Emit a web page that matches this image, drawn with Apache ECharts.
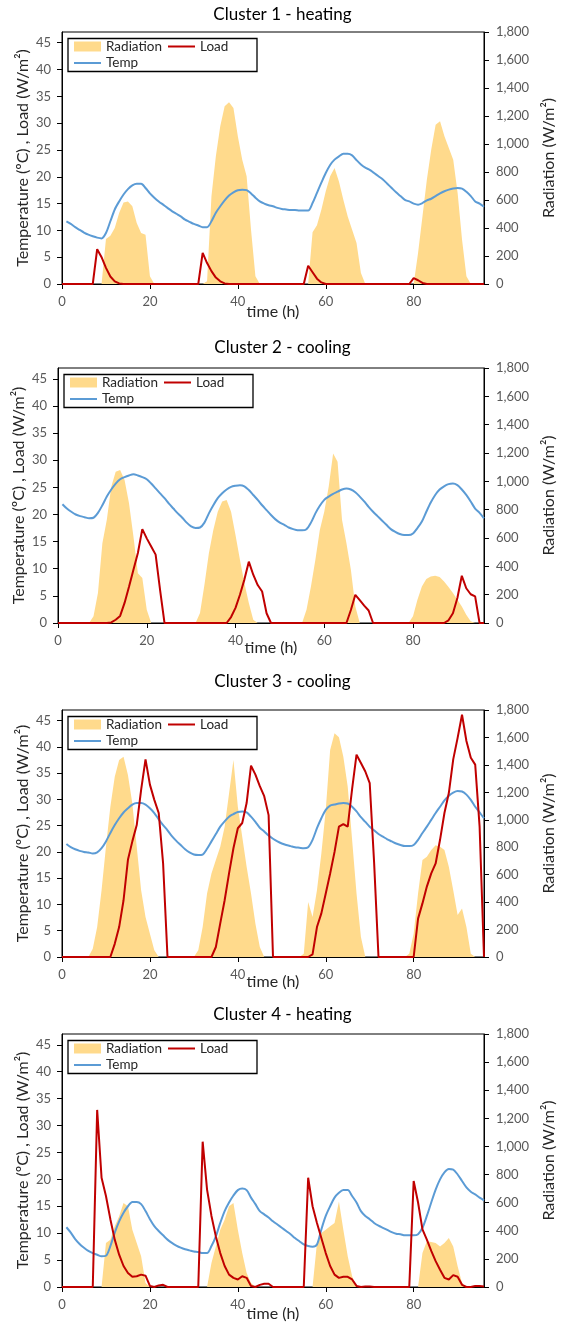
<!DOCTYPE html>
<html><head><meta charset="utf-8">
<script src="https://cdn.jsdelivr.net/npm/echarts@6/dist/echarts.min.js"></script>
<style>html,body{margin:0;padding:0;background:#fff}#c{width:565px;height:1324px}</style>
</head><body><div id="c"></div>
<script>
// ---- data (hour index 0..96) ----
const hours = [0,1,2,3,4,5,6,7,8,9,10,11,12,13,14,15,16,17,18,19,20,21,22,23,24,25,26,27,28,29,30,31,32,33,34,35,36,37,38,39,40,41,42,43,44,45,46,47,48,49,50,51,52,53,54,55,56,57,58,59,60,61,62,63,64,65,66,67,68,69,70,71,72,73,74,75,76,77,78,79,80,81,82,83,84,85,86,87,88,89,90,91,92,93,94,95,96];
const xTicks = [0,20,40,60,80];
const leftTicks = [0,5,10,15,20,25,30,35,40,45];
const titles = ['Cluster 1 - heating','Cluster 2 - cooling','Cluster 3 - cooling','Cluster 4 - heating'];

// Radiation (W/m2), h = 0..96
const rad1 = [0,0,0,0,0,0,0,0,0,0, 321,345,400,507,583,590,555,436,364,352,55,0, 0,0,0,0,0,0,0,0,0,0,0, 20,626,912,1126,1269,1298,1257,1055,888,769,388,55,0, 0,0,0,0,0,0,0,0,0,0,0, 370,420,530,662,769,829,733,602,483,388,293,79,0, 0,0,0,0,0,0,0,0,0,0,0, 221,483,745,960,1138,1162,1055,971,888,650,317,55,0,0,0,0];
const rad2 = [0,0,0,0,0,0,0,0, 47,211,563,728,962,1068,1080,1009,845,610,352,317,94,0, 0,0,0,0,0,0,0,0,0,0, 70,270,493,657,786,857,869,786,622,446,282,141,23,0, 0,0,0,0,0,0,0,0,0,0, 94,258,446,657,786,962,1197,1138,728,563,376,117,0, 0,0,0,0,0,0,0,0,0,0,0, 47,164,258,310,329,333,324,293,254,211,164,117,59,12,0, 0,0];
const rad3 = [0,0,0,0,0,0,0, 61,219,487,803,1095,1314,1436,1460,1326,1119,803,487,292,170,49, 0,0,0,0,0,0,0,0,0, 49,219,462,608,706,803,949,1192,1436,1095,876,657,462,243,73, 0,0,0,0,0,0,0,0,0, 24,401,292,487,754,1071,1509,1630,1601,1460,1241,852,462,146, 0,0,0,0,0,0,0,0,0,0, 24,170,462,706,730,779,815,803,779,657,487,306,353,219,24, 0,0,0];
const rad4 = [0,0,0,0,0,0,0,0,0,0, 313,337,432,503,598,574,408,313,218,28, 0,0,0,0,0,0,0,0,0,0,0,0,0,0, 171,289,408,479,574,598,408,242,100,28, 0,0,0,0,0,0,0,0,0,0,0,0,0,0, 313,384,408,432,455,609,408,218,76, 0,0,0,0,0,0,0,0,0,0,0,0,0,0,0, 242,325,320,313,289,313,349,289,147,28, 0,0,0,0,0];

// Load (W/m2), h = 0..96
const load1 = [0,0,0,0,0,0,0,0, 6.5,5.0,3.0,1.4,0.5,0.1, 0,0,0,0,0,0,0,0,0,0,0,0,0,0,0,0,0,0, 5.8,3.9,2.4,1.2,0.5,0.1, 0,0,0,0,0,0,0,0,0,0,0,0,0,0,0,0,0,0, 3.4,2.2,1.0,0.3, 0,0,0,0,0,0,0,0,0,0,0,0,0,0,0,0,0,0,0,0, 1.1,0.7,0.2, 0,0,0,0,0,0,0,0,0,0,0,0,0,0];
const load2 = [0,0,0,0,0,0,0,0,0,0,0,0, 0.1,0.6,1.3,3.7,6.7,9.8,12.9,17.3,15.6,14.1,12.6,6.1, 0,0,0,0,0,0,0,0,0,0,0,0,0,0,0, 1.1,2.8,5.2,8.0,11.3,8.9,7.0,5.8,1.8, 0,0,0,0,0,0,0,0,0,0,0,0,0,0,0,0,0,0, 2.4,5.2,4.2,3.2,2.3, 0,0,0,0,0,0,0,0,0,0,0,0,0,0,0,0,0, 0.5,1.8,4.6,8.7,6.4,5.3,4.9, 0,0];
const load3 = [0,0,0,0,0,0,0,0,0,0,0,0, 2.5,5.7,10.8,18.5,22.0,25.1,31.8,37.6,32.8,29.9,27.4,17.8,0, 0,0,0,0,0,0,0,0,0,0, 1.9,6.4,10.8,15.9,20.7,24.5,25.5,29.3,36.4,34.7,32.5,30.6,27.0,0, 0,0,0,0,0,0,0,0, 0.5,5.7,8.3,12.1,15.9,20.0,24.8,25.3,24.8,32.0,38.5,36.9,35.3,33.1,18.0,0, 0,0,0,0,0,0,0,0, 7.3,10.2,13.4,15.9,17.8,22.3,27.4,31.2,37.6,41.7,46.1,41.1,37.9,36.6,24.8,0];
const load4 = [0,0,0,0,0,0,0,0, 32.9,20.3,16.9,12.6,8.8,6.0,3.9,2.6,1.9,2.0,2.3,2.1,0.2,0,0.3,0.4,0, 0,0,0,0,0,0,0, 27.0,18.1,13.2,9.4,6.3,3.9,2.3,1.7,1.4,2.0,1.7,0.2,0,0.4,0.6,0.6,0, 0,0,0,0,0,0,0, 20.3,15.0,11.9,9.1,6.3,3.9,2.3,1.7,1.9,1.9,1.4,0.2,0,0.1,0.1,0, 0,0,0,0,0,0,0,0, 19.7,15.7,10.7,8.8,6.7,4.8,3.2,1.7,1.4,2.2,1.9,0.4,0,0,0.2,0.2,0.1];

// Temperature (ºC), h = 1..96
const temp1 = [11.7,11.2,10.6,10.1,9.6,9.2,8.9,8.65,8.5,9.5, 11.7,13.9,15.4,16.7,17.7,18.4,18.7,18.7,17.9,16.9, 16.1,15.4,14.8,14.2,13.6,13.1,12.6,12.0,11.6,11.2, 10.9,10.6,10.6,11.7,13.3,14.5,15.6,16.5,17.1,17.5, 17.6,17.5,16.9,16.1,15.4,15.0,14.7,14.5,14.2,14.0, 13.9,13.8,13.8,13.7,13.7,13.7,15.1,17.0,18.9,20.7, 22.2,23.2,23.8,24.3,24.3,24.0,23.1,22.3,21.7,21.3, 20.7,20.1,19.5,18.7,17.9,17.1,16.4,15.7,15.4,15.0, 14.8,15.1,15.6,15.9,16.4,16.9,17.3,17.6,17.8,17.9, 17.8,17.2,16.4,15.4,15.0,14.4];
const temp2 = [21.9,21.1,20.5,20.0,19.7,19.5,19.3,19.4,20.3,21.7, 23.3,24.6,25.7,26.5,26.9,27.2,27.4,27.2,26.9,26.5, 25.7,24.8,23.9,23.0,22.0,21.1,20.2,19.4,18.5,17.8, 17.5,17.6,18.5,20.2,21.7,23.0,23.9,24.6,25.1,25.3, 25.4,25.2,24.5,23.6,22.7,21.7,20.8,19.9,19.1,18.5, 18.1,17.6,17.3,17.1,17.1,17.3,18.5,20.2,21.6,22.7, 23.3,23.8,24.2,24.6,24.8,24.6,24.1,23.3,22.4,21.4, 20.5,19.7,18.9,18.1,17.3,16.8,16.4,16.2,16.2,16.5, 17.5,18.7,20.5,22.2,23.6,24.6,25.2,25.6,25.7,25.4, 24.6,23.6,22.4,21.1,20.3,19.3];
const temp3 = [21.5,20.9,20.5,20.2,20.0,19.9,19.7,19.9,20.7,22.0, 23.6,25.1,26.4,27.5,28.3,29.0,29.3,29.3,29.0,28.3, 27.4,26.2,25.1,24.1,23.0,22.1,21.3,20.5,19.9,19.5, 19.4,19.5,20.6,22.0,23.4,24.8,25.8,26.7,27.2,27.6, 27.7,27.5,26.7,25.7,24.6,23.9,23.1,22.5,22.0,21.6, 21.3,21.1,20.9,20.8,20.7,20.9,22.3,24.5,26.4,28.0, 28.8,29.0,29.2,29.3,29.2,28.6,27.7,26.6,25.7,24.8, 24.1,23.4,22.9,22.4,22.0,21.6,21.3,21.1,21.1,21.3, 22.3,23.6,24.8,26.1,27.4,28.6,29.8,30.7,31.3,31.6, 31.5,30.9,29.9,28.6,27.5,26.4];
const temp4 = [11.1,10.1,8.9,8.0,7.3,6.7,6.3,6.0,5.7,5.8, 7.6,10.1,12.2,13.8,15.0,15.8,15.8,15.4,14.1,12.6, 11.3,10.4,9.6,8.8,8.2,7.7,7.3,7.0,6.8,6.6, 6.5,6.3,6.3,7.6,9.4,11.9,14.1,15.7,17.0,18.0, 18.3,18.0,16.6,15.4,14.1,13.5,12.9,12.2,11.6,11.0, 10.4,9.8,9.1,8.5,7.9,7.6,7.5,7.9,10.7,13.2, 15.0,16.6,17.5,18.0,18.0,16.9,15.7,14.1,13.2,12.6, 11.9,11.4,11.0,10.6,10.2,9.9,9.8,9.6,9.6,9.6, 9.8,11.0,13.2,15.7,18.1,20.0,21.3,21.9,21.8,20.9, 19.7,18.5,17.7,17.2,16.6,16.1];

// ---- styling / layout ----
const FONT = 'Lato';
const RAD_COLOR = '#FFDA8C';
const LOAD_COLOR = '#C00000';
const TEMP_COLOR = '#5B9BD5';
const AXIS_COLOR = '#000';
const LABEL_COLOR = '#595959';
const NAME_COLOR = '#262626';

const panels = [
  {title: titles[0], rad: rad1, load: load1, temp: temp1, grid: {left: 62, top: 32, width: 433, height: 252}, titleTop: 6.5, xNameGap: 20},
  {title: titles[1], rad: rad2, load: load2, temp: temp2, grid: {left: 58, top: 368, width: 434, height: 255}, titleTop: 339, xNameGap: 17},
  {title: titles[2], rad: rad3, load: load3, temp: temp3, grid: {left: 62, top: 710, width: 433, height: 247}, titleTop: 673, xNameGap: 17},
  {title: titles[3], rad: rad4, load: load4, temp: temp4, grid: {left: 62, top: 1034, width: 433, height: 253}, titleTop: 1006.5, xNameGap: 19}
];

const option = {
  animation: false,
  backgroundColor: '#fff',
  textStyle: {fontFamily: FONT},
  title: [], grid: [], xAxis: [], yAxis: [], legend: [], series: [], graphic: []
};

panels.forEach((p, i) => {
  const g = p.grid;
  option.title.push({
    text: p.title, left: 'center', top: p.titleTop, padding: 0,
    textStyle: {fontFamily: FONT, fontSize: 17, fontWeight: 'normal', color: '#000'}
  });
  option.grid.push({left: g.left, top: g.top, width: g.width, height: g.height, show: true,
    borderColor: AXIS_COLOR, borderWidth: 1, backgroundColor: 'transparent', containLabel: false});
  option.xAxis.push({
    type: 'value', gridIndex: i, min: 0, max: 96, interval: 20,
    name: 'time (h)', nameLocation: 'middle', nameGap: p.xNameGap, nameMoveOverlap: false,
    nameTextStyle: {fontFamily: FONT, fontSize: 16, color: NAME_COLOR},
    axisLine: {show: true, lineStyle: {color: AXIS_COLOR, width: 1}},
    axisTick: {show: true, length: 5, customValues: xTicks, lineStyle: {color: AXIS_COLOR}},
    axisLabel: {customValues: xTicks, margin: 11, fontFamily: FONT, fontSize: 13, color: LABEL_COLOR},
    splitLine: {show: false}
  });
  option.yAxis.push({
    type: 'value', gridIndex: i, position: 'left', min: 0, max: 47, interval: 5,
    name: 'Temperature (ºC) , Load (W/m²)', nameLocation: 'middle', nameRotate: 90, nameGap: 31,
    nameMoveOverlap: false,
    nameTextStyle: {fontFamily: FONT, fontSize: 16, color: NAME_COLOR},
    axisLine: {show: true, lineStyle: {color: AXIS_COLOR, width: 1}},
    axisTick: {show: true, length: 5, customValues: leftTicks, lineStyle: {color: AXIS_COLOR}},
    axisLabel: {customValues: leftTicks, margin: 11, fontFamily: FONT, fontSize: 13, color: LABEL_COLOR},
    splitLine: {show: false}
  });
  option.yAxis.push({
    type: 'value', gridIndex: i, position: 'right', min: 0, max: 1800, interval: 200,
    name: 'Radiation (W/m²)', nameLocation: 'middle', nameRotate: 90, nameGap: 57,
    nameMoveOverlap: false,
    nameTextStyle: {fontFamily: FONT, fontSize: 16, color: NAME_COLOR},
    axisLine: {show: true, lineStyle: {color: AXIS_COLOR, width: 1}},
    axisTick: {show: true, length: 5, lineStyle: {color: AXIS_COLOR}},
    axisLabel: {margin: 12, fontFamily: FONT, fontSize: 13, color: LABEL_COLOR,
      formatter: v => v.toLocaleString('en-US')},
    splitLine: {show: false}
  });

  option.series.push({
    name: 'Radiation', type: 'line', xAxisIndex: i, yAxisIndex: 2 * i + 1,
    data: hours.map((h, k) => [h, p.rad[k]]),
    symbol: 'none', lineStyle: {width: 0}, itemStyle: {color: RAD_COLOR},
    areaStyle: {color: RAD_COLOR, opacity: 1}, z: 1, silent: true
  });
  option.series.push({
    name: 'Temp', type: 'line', xAxisIndex: i, yAxisIndex: 2 * i,
    data: hours.slice(1).map((h, k) => [h, p.temp[k]]),
    symbol: 'none', smooth: 0.3, itemStyle: {color: TEMP_COLOR},
    lineStyle: {width: 2, color: TEMP_COLOR}, z: 3, silent: true
  });
  option.series.push({
    name: 'Load', type: 'line', xAxisIndex: i, yAxisIndex: 2 * i,
    data: hours.map((h, k) => [h, p.load[k]]),
    symbol: 'none', itemStyle: {color: LOAD_COLOR},
    lineStyle: {width: 2, color: LOAD_COLOR}, z: 4, silent: true
  });

  const L = g.left, T = g.top;
  const legendBase = {padding: 0, itemWidth: 27, selectedMode: false,
    textStyle: {fontFamily: FONT, fontSize: 13.5, color: NAME_COLOR}};
  option.legend.push(Object.assign({}, legendBase, {
    data: [{name: 'Radiation', icon: 'rect', itemStyle: {color: RAD_COLOR, borderWidth: 0}}],
    left: L + 12, top: T + 7.5, itemHeight: 10}));
  option.legend.push(Object.assign({}, legendBase, {
    data: [{name: 'Load', icon: 'rect', itemStyle: {color: LOAD_COLOR, borderWidth: 0}}],
    left: L + 106, top: T + 7.5, itemHeight: 2}));
  option.legend.push(Object.assign({}, legendBase, {
    data: [{name: 'Temp', icon: 'rect', itemStyle: {color: TEMP_COLOR, borderWidth: 0}}],
    left: L + 12, top: T + 24, itemHeight: 2}));
  option.graphic.push({
    type: 'rect', shape: {x: L + 6, y: T + 6.5, width: 189, height: 33},
    style: {fill: 'none', stroke: '#000', lineWidth: 1.3}, silent: true, z: 10
  });
});

const chart = echarts.init(document.getElementById('c'), null, {renderer: 'canvas'});
chart.setOption(option);
</script>
</body></html>
